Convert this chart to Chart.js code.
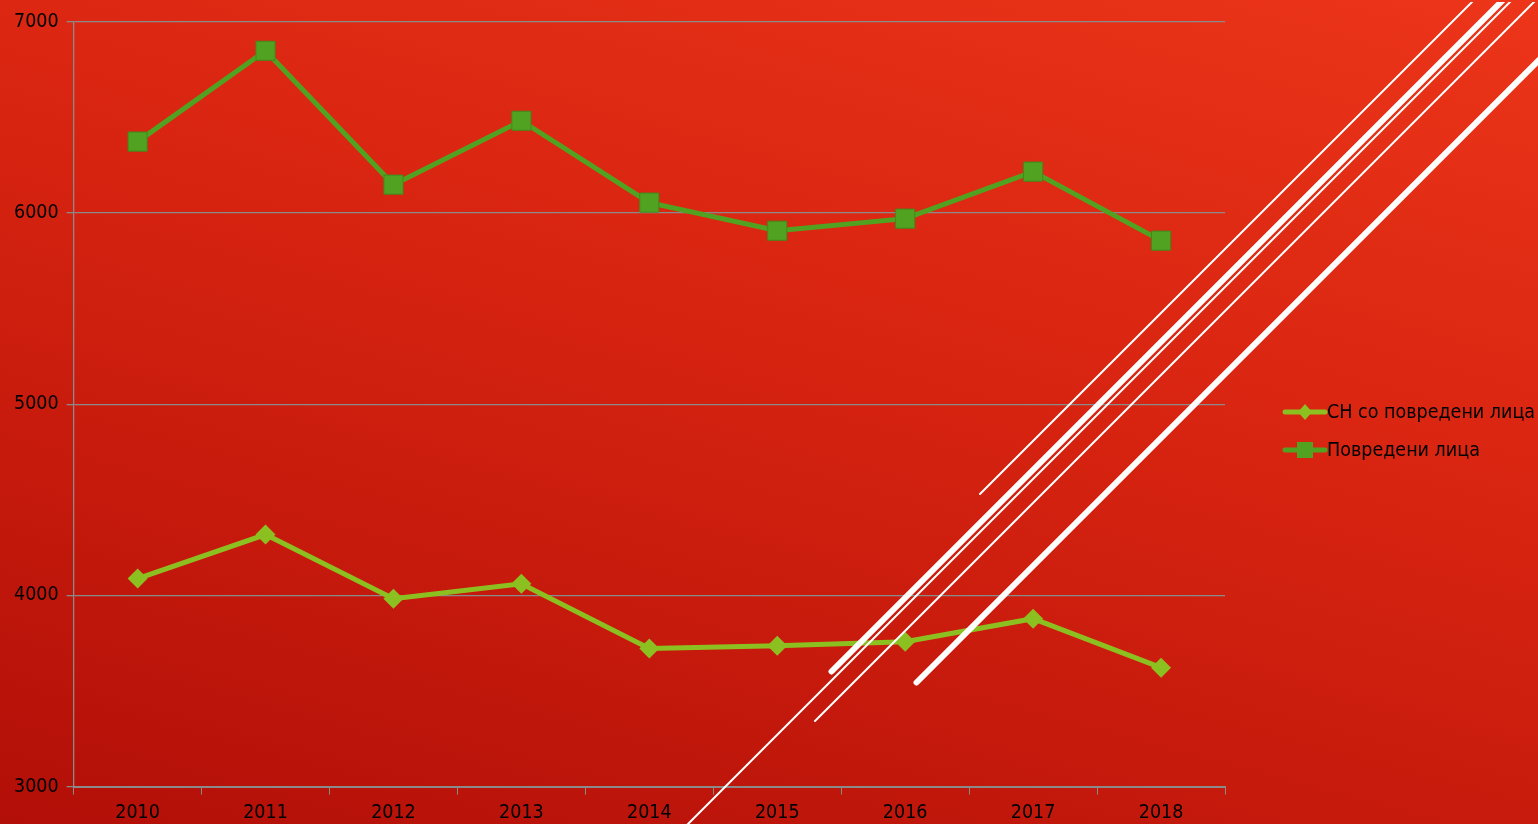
<!DOCTYPE html>
<html>
<head>
<meta charset="utf-8">
<script src="https://cdn.jsdelivr.net/npm/chart.js@4.4.1/dist/chart.umd.min.js"></script>
<style>
  html, body { margin: 0; padding: 0; overflow: hidden; }
  body {
    width: 1538px; height: 824px;
    background: linear-gradient(195deg, #ec3519 0%, #d62310 45%, #b20f08 100%);
  }
  #wrap { position: absolute; left: 0; top: 2px; width: 1538px; height: 830px; }
</style>
</head>
<body>
<div id="wrap"><canvas id="myChart"></canvas></div>
<script>
"use strict";

const years = ['2010', '2011', '2012', '2013', '2014', '2015', '2016', '2017', '2018'];
const accidentsWithInjured = [4088, 4318, 3983, 4061, 3722, 3737, 3758, 3878, 3622];
const injuredPersons = [6373, 6848, 6148, 6482, 6054, 5907, 5970, 6216, 5855];
const seriesNames = ['СН со повредени лица', 'Повредени лица'];
const yTicks = [3000, 4000, 5000, 6000, 7000];

const FONT = '"DejaVu Sans Condensed", "DejaVu Sans", sans-serif';
const GRID = '#8a8a8a';

// white diagonal strokes from the slide background (canvas is shifted 2px down)
const stripes = [
  { x: 980, y: 492, w: 2 },
  { x: 831.5, y: 669.5, w: 6 },
  { x: 680, y: 830, w: 2 },
  { x: 815, y: 719, w: 2 },
  { x: 916.5, y: 680.5, w: 6 }
];

const stripePlugin = {
  id: 'stripes',
  afterDraw(chart) {
    const ctx = chart.ctx;
    ctx.save();
    ctx.strokeStyle = '#ffffff';
    ctx.lineCap = 'round';
    stripes.forEach(s => {
      ctx.lineWidth = s.w;
      ctx.beginPath();
      ctx.moveTo(s.x, s.y);
      ctx.lineTo(s.x + 1000, s.y - 1000);
      ctx.stroke();
    });
    ctx.restore();
  }
};

// legend on the right: line with marker, text straight after it
const sideLegend = {
  id: 'sideLegend',
  afterDraw(chart) {
    const ctx = chart.ctx;
    const area = chart.chartArea;
    const x0 = area.right + 58;
    const yMid = 429;
    const gap = 38;
    ctx.save();
    chart.data.datasets.forEach((ds, i) => {
      const y = yMid - gap / 2 + i * gap;
      ctx.strokeStyle = ds.borderColor;
      ctx.lineWidth = 5;
      ctx.lineCap = 'round';
      ctx.beginPath();
      ctx.moveTo(x0 + 2, y);
      ctx.lineTo(x0 + 42, y);
      ctx.stroke();
      ctx.fillStyle = ds.pointBackgroundColor;
      ctx.beginPath();
      if (ds.pointStyle === 'rectRot') {
        ctx.moveTo(x0 + 22, y - 8);
        ctx.lineTo(x0 + 29, y);
        ctx.lineTo(x0 + 22, y + 8);
        ctx.lineTo(x0 + 15, y);
      } else {
        ctx.rect(x0 + 14, y - 8, 16, 16);
      }
      ctx.fill();
      ctx.fillStyle = '#000000';
      ctx.font = '19.5px ' + FONT;
      ctx.textBaseline = 'middle';
      ctx.fillText(ds.label, x0 + 44, y + 1);
    });
    ctx.restore();
  }
};

const ctx = document.getElementById('myChart').getContext('2d');
const myChart = new Chart(ctx, {
  type: 'line',
  data: {
    labels: years,
    datasets: [{
      label: seriesNames[0],
      data: accidentsWithInjured,
      borderColor: '#8cc021',
      backgroundColor: '#8cc021',
      pointBackgroundColor: '#8cc021',
      pointBorderColor: '#8cc021',
      borderWidth: 5,
      pointStyle: 'rectRot',
      pointRadius: 10,
      pointBorderWidth: 0,
      tension: 0
    }, {
      label: seriesNames[1],
      data: injuredPersons,
      borderColor: '#52a222',
      backgroundColor: '#52a222',
      pointBackgroundColor: '#52a222',
      pointBorderColor: '#3f8a1c',
      borderWidth: 5,
      pointStyle: 'rect',
      pointRadius: 13.5,
      pointBorderWidth: 1,
      tension: 0
    }]
  },
  options: {
    responsive: true,
    maintainAspectRatio: false,
    animation: false,
    layout: { padding: { left: 6, right: 313, top: 13, bottom: 0 } },
    plugins: {
      legend: { display: false },
      tooltip: { enabled: false }
    },
    scales: {
      x: {
        offset: true,
        grid: {
          offset: true,
          drawOnChartArea: false,
          drawTicks: true,
          tickLength: 8,
          color: GRID
        },
        border: { display: true, color: GRID, width: 2 },
        ticks: {
          color: '#000000',
          font: { family: FONT, size: 19.5 },
          padding: 7
        }
      },
      y: {
        min: 3000,
        max: 7000,
        afterBuildTicks: (scale) => { scale.ticks = yTicks.map(v => ({ value: v })); },
        grid: {
          color: GRID,
          lineWidth: 1.3,
          tickLength: 7
        },
        border: { display: true, color: GRID, width: 1.3 },
        ticks: {
          color: '#000000',
          font: { family: FONT, size: 19.5 },
          padding: 8,
          callback: (v) => String(v)
        }
      }
    }
  },
  plugins: [stripePlugin, sideLegend]
});
</script>
</body>
</html>
